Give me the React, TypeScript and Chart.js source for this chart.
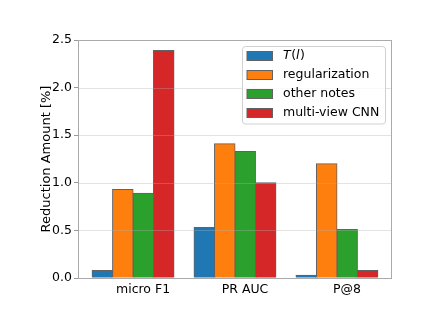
import React, { useEffect, useRef } from "react";
import { Chart, registerables } from "chart.js";

Chart.register(...registerables);

const categories = ["micro F1", "PR AUC", "P@8"];
const seriesNames = ["T(l)", "regularization", "other notes", "multi-view CNN"];
const tlValues = [0.08, 0.53, 0.03];
const regularizationValues = [0.93, 1.41, 1.2];
const otherNotesValues = [0.89, 1.33, 0.51];
const multiViewValues = [2.39, 1.0, 0.08];
const seriesValues = [tlValues, regularizationValues, otherNotesValues, multiViewValues];
const colors = ["#1f77b4", "#ff7f0e", "#2ca02c", "#d62728"];
const yTicks = [0, 0.5, 1.0, 1.5, 2.0, 2.5];
const yLabel = "Reduction Amount [%]";

const FONT_FAMILY = '"DejaVu Sans", sans-serif';
const EDGE = "#626262";

const overlayPlugin = {
  id: "overlay",
  afterDatasetsDraw(chart: any) {
    const { ctx, chartArea: a, scales } = chart;
    const y = scales.y;
    ctx.save();
    // grid lines over bars
    ctx.strokeStyle = "rgba(176,176,176,0.35)";
    ctx.lineWidth = 1;
    yTicks.forEach((t) => {
      if (t <= yTicks[0] || t >= yTicks[yTicks.length - 1]) return;
      const py = Math.round(y.getPixelForValue(t)) + 0.5;
      ctx.beginPath();
      ctx.moveTo(a.left, py);
      ctx.lineTo(a.right, py);
      ctx.stroke();
    });
    // spines
    ctx.strokeStyle = "#aaaaaa";
    ctx.lineWidth = 1;
    ctx.strokeRect(Math.round(a.left) + 0.5, Math.round(a.top) + 0.5, Math.round(a.right - a.left) - 1, Math.round(a.bottom - a.top));
    // legend
    const bx = a.right - 150;
    const by = a.top + 6;
    const bw = 143;
    const bh = 77.5;
    ctx.beginPath();
    (ctx as any).roundRect(bx + 0.5, by + 0.5, bw, bh, 3);
    ctx.fillStyle = "rgba(255,255,255,0.8)";
    ctx.fill();
    ctx.strokeStyle = "#d0d0d0";
    ctx.stroke();
    const fontSize = 12.5;
    seriesNames.forEach((name, i) => {
      const cy = by + 10 + i * 19;
      ctx.fillStyle = colors[i];
      ctx.fillRect(bx + 5, cy - 4.5, 25.5, 9);
      ctx.strokeStyle = EDGE;
      ctx.lineWidth = 1;
      ctx.strokeRect(bx + 5, cy - 4.5, 25.5, 9);
      ctx.fillStyle = "#000";
      ctx.textBaseline = "middle";
      ctx.textAlign = "left";
      let tx = bx + 41;
      if (name === "T(l)") {
        const parts: [string, boolean][] = [["T", true], ["(", false], ["l", true], [")", false]];
        parts.forEach(([s, it]) => {
          ctx.font = `${it ? "italic " : ""}${fontSize}px ${FONT_FAMILY}`;
          ctx.fillText(s, tx, cy);
          tx += ctx.measureText(s).width + (it ? 0.5 : 0);
        });
      } else {
        ctx.font = `${fontSize}px ${FONT_FAMILY}`;
        ctx.fillText(name, tx, cy);
      }
    });
    ctx.restore();
  },
};

export default function App() {
  const ref = useRef<HTMLCanvasElement | null>(null);
  useEffect(() => {
    document.body.style.margin = "0";
    const canvas = ref.current;
    if (!canvas) return;
    const font = { family: FONT_FAMILY, size: 12.5 };
    const chart = new Chart(canvas, {
      type: "bar",
      data: {
        datasets: seriesValues.map((vals, i) => ({
          label: seriesNames[i],
          data: vals.map((v, j) => ({ x: j, y: v })),
          backgroundColor: colors[i],
          borderColor: EDGE,
          borderWidth: 1,
          inflateAmount: 0.5,
          categoryPercentage: 0.803,
          barPercentage: 1.0,
        })),
      },
      options: {
        responsive: false,
        animation: false,
        devicePixelRatio: 1,
        layout: { padding: { top: 40, right: 44, left: 0, bottom: 0 } },
        plugins: { legend: { display: false }, tooltip: { enabled: false } },
        scales: {
          x: {
            type: "linear",
            offset: false,
            min: -0.54,
            max: 2.54,
            grid: { display: false, drawTicks: false, offset: false },
            border: { display: false },
            ticks: {
              stepSize: 1,
              includeBounds: false,
              autoSkip: false,
              maxRotation: 0,
              labelOffset: 10,
              padding: 4,
              color: "#000",
              font,
              callback: (v: any) => (Number.isInteger(v) && categories[v] !== undefined ? categories[v] : ""),
            },
            afterFit: (s: any) => {
              s.height = 49;
            },
          },
          y: {
            min: 0,
            max: 2.5,
            grid: { drawOnChartArea: false, tickLength: 4, tickColor: "#999999" },
            border: { display: false },
            ticks: {
              stepSize: 0.5,
              padding: 2,
              color: "#000",
              font,
              callback: (v: any) => Number(v).toFixed(1),
            },
            title: {
              display: true,
              text: yLabel,
              color: "#000",
              font: { family: FONT_FAMILY, size: 13 },
              padding: { top: 39, bottom: 0 },
            },
            afterFit: (s: any) => {
              s.width = 78;
            },
          },
        },
      } as any,
      plugins: [overlayPlugin],
    });
    return () => chart.destroy();
  }, []);
  return <canvas ref={ref} width={436} height={327} style={{ display: "block" }} />;
}
